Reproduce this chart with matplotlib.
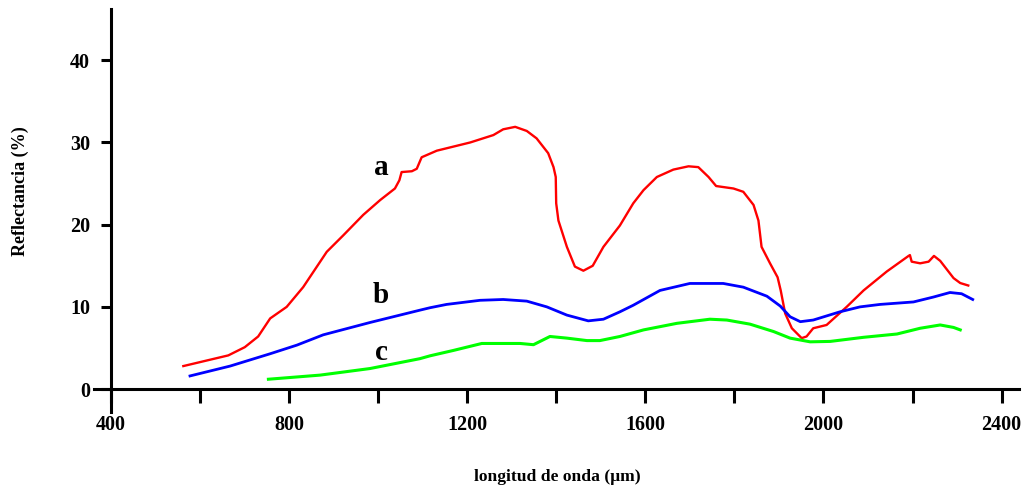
import matplotlib
matplotlib.use("Agg")
import matplotlib.pyplot as plt
from matplotlib.ticker import FixedLocator, NullFormatter

# Wavelength (nm) and reflectance (%) for curve a (red)
a_x = [563, 664, 701, 731, 758, 795, 832, 885, 922, 967, 1005, 1038, 1048, 1053, 1076, 1087,
       1098, 1132, 1207, 1259, 1281, 1308, 1334, 1356, 1382, 1394, 1399, 1400, 1405, 1424, 1442,
       1461, 1482, 1506, 1543, 1573, 1596, 1626, 1663, 1697, 1719, 1742, 1759, 1798, 1820, 1843,
       1854, 1861, 1880, 1897, 1904, 1914, 1929, 1951, 1962, 1977, 2007, 2052, 2090, 2142, 2191,
       2194, 2198, 2217, 2236, 2248, 2262, 2292, 2307, 2325]
a_y = [2.8, 4.1, 5.1, 6.4, 8.6, 10.0, 12.4, 16.7, 18.7, 21.2, 23.0, 24.4, 25.4, 26.4, 26.5, 26.8,
       28.2, 29.0, 30.0, 30.9, 31.6, 31.9, 31.4, 30.5, 28.7, 27.0, 25.8, 22.6, 20.5, 17.3, 14.9,
       14.4, 15.0, 17.3, 19.9, 22.6, 24.2, 25.8, 26.7, 27.1, 27.0, 25.8, 24.7, 24.4, 24.0, 22.4,
       20.5, 17.3, 15.3, 13.6, 12.0, 9.2, 7.4, 6.2, 6.4, 7.4, 7.8, 10.0, 12.0, 14.3, 16.2,
       16.3, 15.5, 15.3, 15.5, 16.2, 15.6, 13.5, 12.9, 12.6]

# Curve b (blue)
b_x = [578, 668, 758, 818, 877, 982, 1094, 1117, 1154, 1229, 1281, 1334, 1379, 1424, 1472, 1506,
       1543, 1573, 1633, 1700, 1775, 1820, 1873, 1903, 1925, 1948, 1977, 2037, 2082, 2127, 2202,
       2247, 2284, 2310, 2335]
b_y = [1.6, 2.8, 4.3, 5.35, 6.6, 8.1, 9.6, 9.9, 10.3, 10.8, 10.9, 10.7, 10.0, 9.0, 8.3, 8.5,
       9.4, 10.2, 12.0, 12.85, 12.85, 12.4, 11.3, 10.1, 8.8, 8.2, 8.4, 9.4, 10.0, 10.3, 10.6,
       11.2, 11.75, 11.6, 10.9]

# Curve c (green)
c_x = [754, 870, 982, 1094, 1117, 1169, 1233, 1319, 1349, 1386, 1424, 1469, 1498, 1543, 1596,
       1671, 1745, 1783, 1835, 1888, 1925, 1970, 2015, 2090, 2165, 2217, 2262, 2292, 2307]
c_y = [1.2, 1.7, 2.5, 3.7, 4.05, 4.7, 5.55, 5.55, 5.4, 6.4, 6.2, 5.9, 5.9, 6.4, 7.2,
       8.0, 8.5, 8.4, 7.9, 7.0, 6.2, 5.75, 5.8, 6.3, 6.7, 7.4, 7.8, 7.5, 7.2]

x_major = [400, 800, 1200, 1600, 2000, 2400]
x_minor = [600, 1000, 1400, 1800, 2200]
y_ticks = [0, 10, 20, 30, 40]

curve_labels = ["a", "b", "c"]
label_pos = [(1007, 27.0), (1007, 11.4), (1007, 4.5)]

plt.rcParams['font.family'] = ['Liberation Serif', 'DejaVu Serif']

fig = plt.figure(figsize=(10.24, 4.94), dpi=100)
ax = fig.add_axes([0.0918, 0.1666, 0.9038, 0.8146])

ax.plot(a_x, a_y, color='#ff0000', lw=1.7)
ax.plot(b_x, b_y, color='#0000ff', lw=2.0)
ax.plot(c_x, c_y, color='#00ff00', lw=2.2)

ax.set_xlim(362.5, 2440)
ax.set_ylim(-2.75, 46.2)

for s in ['top', 'right']:
    ax.spines[s].set_visible(False)
ax.spines['left'].set_position(('data', 400))
ax.spines['bottom'].set_position(('data', 0))
ax.spines['left'].set_linewidth(2.2)
ax.spines['bottom'].set_linewidth(2.2)
ax.spines['left'].set_bounds(-2.75, 46.2)

ax.xaxis.set_major_locator(FixedLocator(x_major))
ax.xaxis.set_minor_locator(FixedLocator(x_minor))
ax.xaxis.set_minor_formatter(NullFormatter())
ax.set_yticks(y_ticks)

ax.tick_params(axis='x', which='both', direction='out', length=10, width=2.2, pad=9,
               labelsize=14.5)
ax.tick_params(axis='y', direction='out', length=7, width=2.2, pad=8, labelsize=14.5)
for lab in ax.get_xticklabels() + ax.get_yticklabels():
    lab.set_fontweight('bold')

for txt, (lx, ly) in zip(curve_labels, label_pos):
    ax.text(lx, ly, txt, fontsize=21, fontweight='bold', ha='center', va='center')

fig.text(20 / 1024, 1 - 191 / 494, "Reflectancia (%)", rotation=90, fontsize=13,
         fontweight='bold', ha='center', va='center')
fig.text(557 / 1024, 1 - 477 / 494, "longitud de onda (μm)", fontsize=12.6,
         fontweight='bold', ha='center', va='center')

fig.savefig("out.png", dpi=100)
